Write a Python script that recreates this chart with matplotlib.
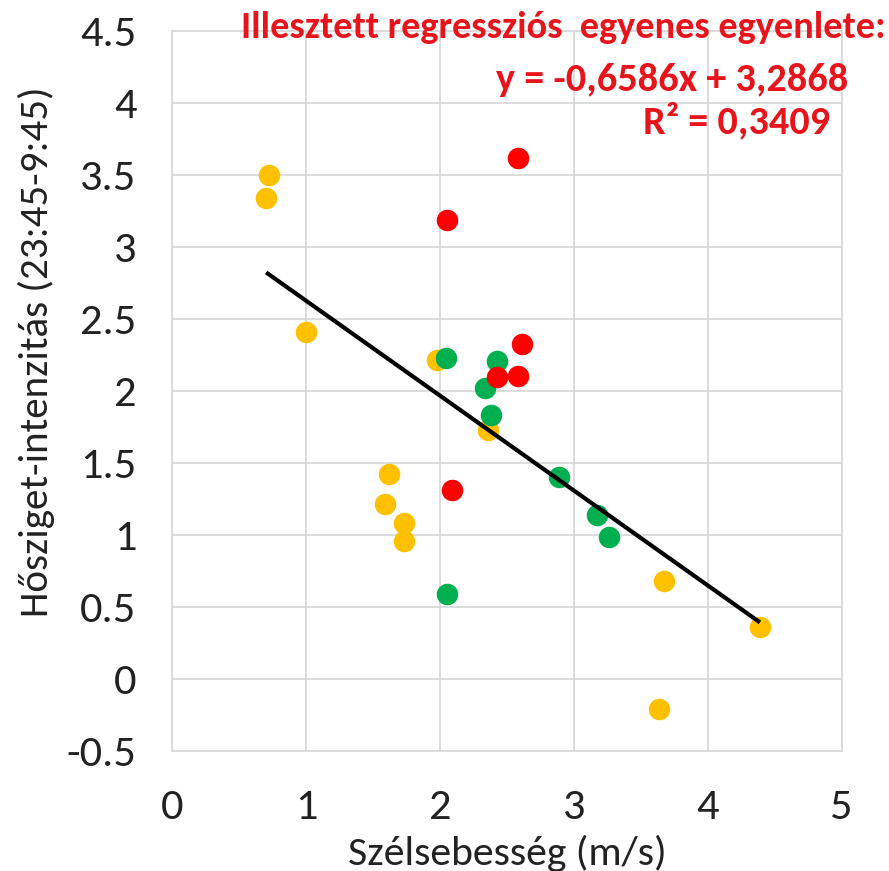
import numpy as np
import matplotlib
matplotlib.use("Agg")
import matplotlib.pyplot as plt
from matplotlib import font_manager

# wind speed (m/s) and heat island intensity, three groups of days
x_yellow = [0.72, 0.70, 1.00, 1.975, 2.36, 1.62, 1.586, 1.73, 1.73, 3.673, 4.39, 3.636]
y_yellow = [3.50, 3.34, 2.41, 2.22, 1.73, 1.425, 1.22, 1.088, 0.963, 0.685, 0.361, -0.208]

x_red = [2.585, 2.049, 2.614, 2.423, 2.585, 2.087]
y_red = [3.62, 3.19, 2.33, 2.10, 2.11, 1.315]

x_green = [2.044, 2.423, 2.336, 2.378, 2.889, 3.17, 3.26, 2.049]
y_green = [2.23, 2.21, 2.02, 1.835, 1.407, 1.141, 0.986, 0.592]

slope = -0.6586
intercept = 3.2868
r2 = 0.3409

xticks = [0, 1, 2, 3, 4, 5]
yticks = [-0.5, 0, 0.5, 1, 1.5, 2, 2.5, 3, 3.5, 4, 4.5]

names = {f.name for f in font_manager.fontManager.ttflist}
font = next(f for f in ["Carlito", "Liberation Sans Narrow", "Open Sans"] if f in names)
plt.rcParams["font.family"] = [font, "DejaVu Sans"]

fig = plt.figure(figsize=(8.89, 8.71), dpi=100)
ax = fig.add_axes([0.194, 0.1374, 0.7526, 0.8266])

ax.scatter(x_yellow, y_yellow, s=240, color="#FFC000", zorder=3, linewidths=0)
ax.scatter(x_green, y_green, s=240, color="#00B050", zorder=3, linewidths=0)
ax.scatter(x_red, y_red, s=240, color="#FF0000", zorder=3, linewidths=0)

# fitted line across the data range
all_x = x_yellow + x_red + x_green
lx = np.array([min(all_x), max(all_x)])
ax.plot(lx, slope * lx + intercept, color="black", lw=3.0, zorder=4,
        solid_capstyle="butt")

ax.set_xlim(0, 5)
ax.set_ylim(-0.5, 4.5)
ax.set_xticks(xticks)
ax.set_yticks(yticks)
ax.set_xticklabels([str(t) for t in xticks])
ax.set_yticklabels([f"{t:g}" for t in yticks])
ax.grid(True, color="#d9d9d9", lw=1.3)
ax.set_axisbelow(True)
for sp in ax.spines.values():
    sp.set_color("#d9d9d9")
    sp.set_linewidth(1.3)
ax.tick_params(length=0, labelsize=32, colors="#222222")
ax.tick_params(axis="x", pad=27)
ax.tick_params(axis="y", pad=26)

ax.set_xlabel("Szélsebesség (m/s)", fontsize=30, color="#222222", va="baseline")
ax.xaxis.set_label_coords(0.5, -0.158)
ax.set_ylabel("Hősziget-intenzitás (23:45-9:45)", fontsize=29.5, color="#222222",
              va="center")
ax.yaxis.set_label_coords(-0.204, 0.555)

red = "#E8141C"
fig.text(0.996, 0.968, "Illesztett regressziós  egyenes egyenlete:", ha="right", va="center",
         color=red, fontsize=27.5, fontweight="bold")
fig.text(0.954, 0.908, f"y = {slope:.4f}x + {intercept:.4f}".replace(".", ","), ha="right",
         va="center", color=red, fontsize=29, fontweight="bold")
fig.text(0.934, 0.861, f"R² = {r2:.4f}".replace(".", ","), ha="right", va="center",
         color=red, fontsize=29, fontweight="bold")

fig.savefig("out.png", dpi=100, facecolor="white")
